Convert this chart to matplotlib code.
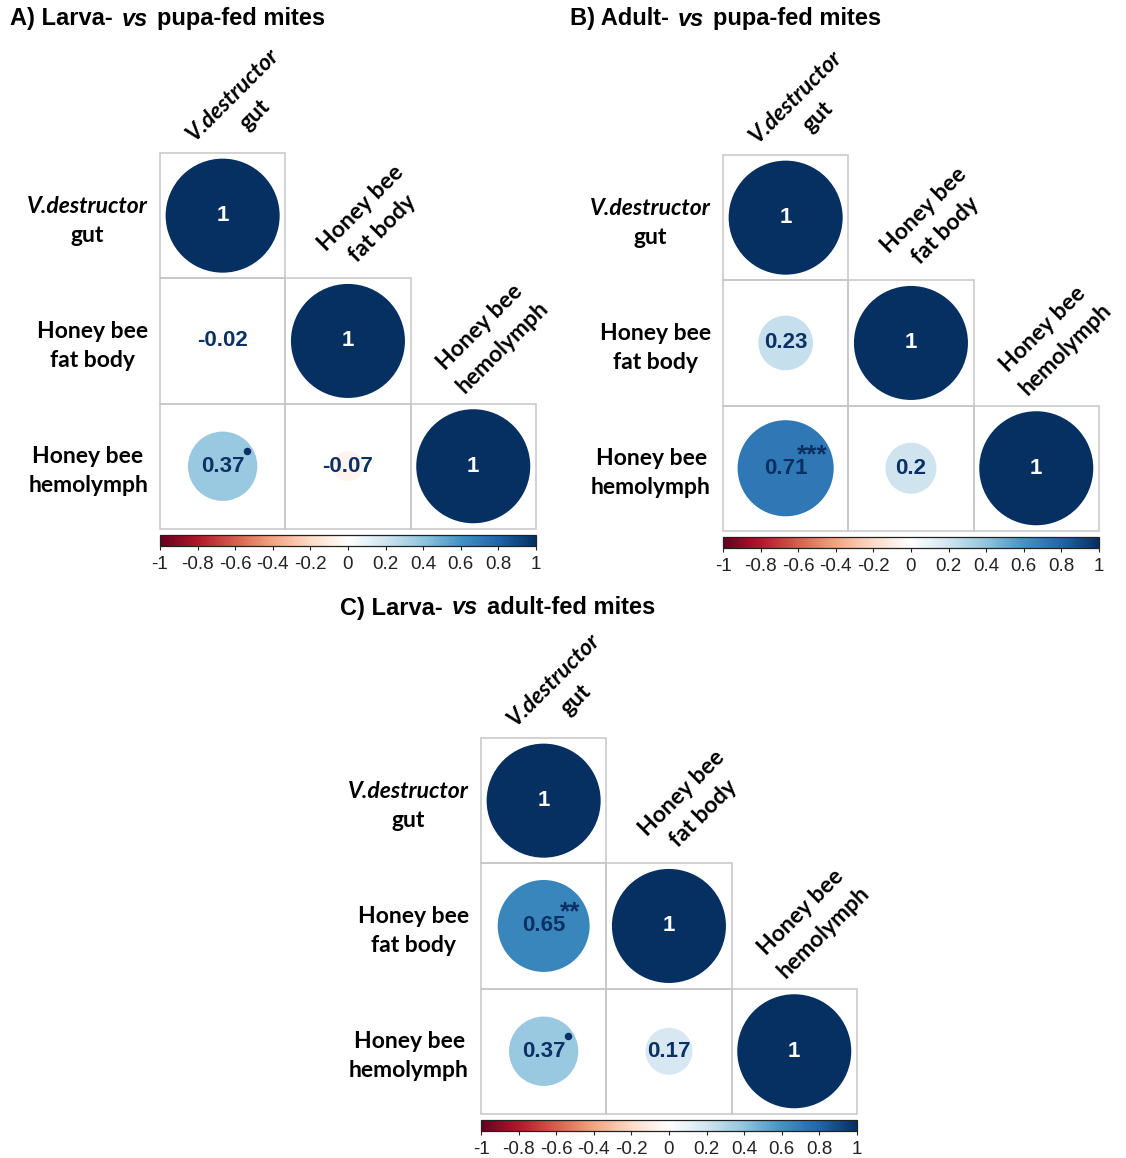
"""
Lower-triangle correlation plots (corrplot style) for three mite feeding comparisons.
"""

import numpy as np
import matplotlib
matplotlib.use('Agg')
import matplotlib.pyplot as plt
from matplotlib.patches import Circle, Rectangle
from matplotlib.colors import LinearSegmentedColormap, Normalize
from matplotlib.cm import ScalarMappable

W, H = 1126, 1158
DPI = 100

# tissue labels, split in two lines; first line italic for the mite
label_lines = [('V.destructor', 'gut'), ('Honey bee', 'fat body'), ('Honey bee', 'hemolymph')]
first_line_italic = [True, False, False]

# lower triangle of each correlation matrix (row i has i+1 entries)
corr_a = [[1.0], [-0.02, 1.0], [0.37, -0.07, 1.0]]
corr_b = [[1.0], [0.23, 1.0], [0.71, 0.2, 1.0]]
corr_c = [[1.0], [0.65, 1.0], [0.37, 0.17, 1.0]]

# significance codes (p < 0.1 '.', p < 0.01 '**', p < 0.001 '***')
sig_a = [[''], ['', ''], ['.', '', '']]
sig_b = [[''], ['', ''], ['***', '', '']]
sig_c = [[''], ['**', ''], ['.', '', '']]

titles = [
    ('A) Larva-', 'vs', 'pupa-fed mites'),
    ('B) Adult-', 'vs', 'pupa-fed mites'),
    ('C) Larva-', 'vs', 'adult-fed mites'),
]

cbar_ticks = [-1, -0.8, -0.6, -0.4, -0.2, 0, 0.2, 0.4, 0.6, 0.8, 1]
cbar_ticklabels = ['-1', '-0.8', '-0.6', '-0.4', '-0.2', '0', '0.2', '0.4', '0.6', '0.8', '1']

# corrplot's COL2('RdBu') ramp
cmap = LinearSegmentedColormap.from_list('corr_rdbu', [
    '#67001F', '#B2182B', '#D6604D', '#F4A582', '#FDDBC7', '#FFFFFF',
    '#D1E5F0', '#92C5DE', '#4393C3', '#2166AC', '#053061'], N=200)
norm = Normalize(-1, 1)

NAVY = '#0a3064'
GRID_COL = '#c6c6c6'
LABEL_FONT = 'Lato'
NUM_FONT = 'Liberation Sans'

# panel layout in pixels: grid left, grid top, cell size, title x, title y
layout = [
    dict(gx=160, gy=153, cell=125.3, tx=10, ty=19),
    dict(gx=723, gy=155, cell=125.3, tx=570, ty=19),
    dict(gx=481, gy=738, cell=125.3, tx=340, ty=608),
]

# centre of the first line of each rotated column name, relative to the
# top-centre of its diagonal cell, and the shift to the second line
col_offsets = [(10, -58), (13, -70), (7, -76)]
line_shift = (22, 20)

fig = plt.figure(figsize=(W / DPI, H / DPI), dpi=DPI, facecolor='white')
base = fig.add_axes([0, 0, 1, 1])
base.set_xlim(0, W)
base.set_ylim(H, 0)
base.axis('off')
renderer = fig.canvas.get_renderer()


def text_width(t):
    return t.get_window_extent(renderer).width


def draw_title(x, y, parts):
    left, mid, right = parts
    kw = dict(fontfamily=NUM_FONT, fontweight='bold', fontsize=17, va='center', ha='left')
    t = base.text(x, y, left, **kw)
    x += text_width(t) + 9
    t = base.text(x, y, mid, fontstyle='italic', **kw)
    x += text_width(t) + 9
    base.text(x, y, right, **kw)


def label_kw(italic):
    return dict(fontfamily=LABEL_FONT, fontweight='bold', fontsize=16.5,
                fontstyle='italic' if italic else 'normal', color='black')


def row_label(right, cy, lines, italic):
    t1 = base.text(0, cy - 9.5, lines[0], ha='center', va='center', **label_kw(italic))
    t2 = base.text(0, cy + 19.5, lines[1], ha='center', va='center', **label_kw(False))
    w = max(text_width(t1), text_width(t2))
    cx = right - w / 2
    t1.set_x(cx)
    t2.set_x(cx)


def col_label(cx, top, off, lines, italic):
    x1, y1 = cx + off[0], top + off[1]
    x2, y2 = x1 + line_shift[0], y1 + line_shift[1]
    base.text(x1, y1, lines[0], ha='center', va='center', rotation=45,
              rotation_mode='anchor', **label_kw(italic))
    base.text(x2, y2, lines[1], ha='center', va='center', rotation=45,
              rotation_mode='anchor', **label_kw(False))


def draw_panel(lay, corr, sig, title):
    gx, gy, cell = lay['gx'], lay['gy'], lay['cell']
    n = len(corr)
    ax = fig.add_axes([gx / W, 1 - (gy + n * cell) / H, n * cell / W, n * cell / H])
    ax.set_xlim(0, n)
    ax.set_ylim(n, 0)
    ax.axis('off')

    for i, row in enumerate(corr):
        for j, r in enumerate(row):
            ax.add_patch(Rectangle((j, i), 1, 1, fill=False, ec=GRID_COL, lw=1.1,
                                   zorder=1, clip_on=False))
            ax.add_patch(Circle((j + 0.5, i + 0.5), 0.455 * np.sqrt(abs(r)),
                                fc=cmap(norm(r)), ec='none', zorder=2))
            ax.text(j + 0.5, i + 0.5, f'{r:g}', ha='center', va='center',
                    fontfamily=NUM_FONT, fontweight='bold', fontsize=16,
                    color='white' if i == j else NAVY, zorder=3)
            s = sig[i][j]
            if s == '.':
                ax.plot(j + 0.5 + 0.195, i + 0.5 - 0.125, 'o', ms=4.4, color=NAVY, zorder=4)
            elif s:
                ax.text(j + 0.5 + 0.21, i + 0.5 - 0.105, s, ha='center', va='center',
                        fontfamily=NUM_FONT, fontweight='bold', fontsize=19,
                        color=NAVY, zorder=4)

    # variable names on the left and rotated above the diagonal
    for i, lines in enumerate(label_lines):
        row_label(gx - 12, gy + (i + 0.5) * cell, lines, first_line_italic[i])
        col_label(gx + (i + 0.5) * cell, gy + i * cell, col_offsets[i], lines,
                  first_line_italic[i])

    # color legend under the grid
    bar_top = gy + n * cell + 6
    cax = fig.add_axes([gx / W, 1 - (bar_top + 11.5) / H, n * cell / W, 11.5 / H])
    cb = fig.colorbar(ScalarMappable(norm=norm, cmap=cmap), cax=cax,
                      orientation='horizontal', ticks=cbar_ticks)
    cb.ax.set_xticklabels(cbar_ticklabels)
    cb.ax.tick_params(labelsize=13.5, length=3, width=0.8, pad=4, colors='#222222')
    for lab in cb.ax.get_xticklabels():
        lab.set_fontfamily(NUM_FONT)
    cb.outline.set_linewidth(0.9)
    cb.outline.set_edgecolor('#222222')

    draw_title(lay['tx'], lay['ty'], title)


for lay, corr, sig, title in zip(layout, [corr_a, corr_b, corr_c],
                                 [sig_a, sig_b, sig_c], titles):
    draw_panel(lay, corr, sig, title)

fig.savefig('out.png', dpi=DPI, facecolor='white')
